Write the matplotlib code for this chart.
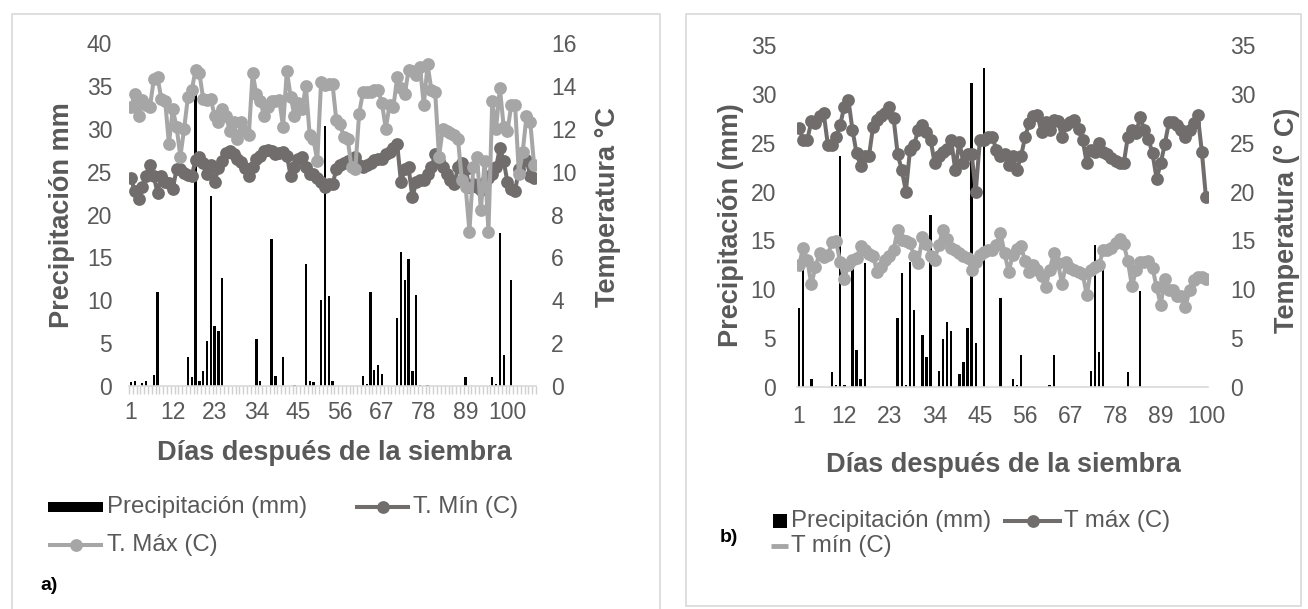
import numpy as np
import matplotlib.pyplot as plt
from matplotlib.patches import Rectangle
from matplotlib.lines import Line2D

plt.rcParams['font.family'] = ['Liberation Sans', 'DejaVu Sans']

W, H = 1308, 609
GRIS_TXT = '#595959'
OSCURO = '#716d6d'
CLARO = '#a6a6a6'

# ---------------- datos a) ----------------
n_dias_a = 107
lluvia_a_dia = [1, 2, 4, 5, 7, 8, 16, 17, 18, 19, 20, 21, 22, 23, 24, 25, 34, 35, 38, 39,
                41, 44, 47, 48, 49, 51, 52, 53, 54, 62, 63, 64, 65, 66, 67, 71, 72, 73,
                74, 75, 76, 77, 79, 89, 96, 97, 98, 99, 101]
lluvia_a_mm = [0.5, 0.6, 0.4, 0.6, 1.3, 11.0, 3.4, 1.0, 35.0, 0.6, 1.8, 5.2, 22.1, 7.0, 6.4,
               12.6, 5.5, 0.6, 17.2, 1.2, 3.4, 0.1, 14.2, 0.6, 0.5, 10.0, 30.3, 10.5, 0.6,
               1.2, 0.2, 11.0, 1.9, 2.5, 1.4, 7.9, 15.6, 12.4, 14.8, 1.7, 10.6, 0.1, 0.1,
               1.0, 1.0, 0.2, 17.9, 3.6, 12.4]
tmin_a = [9.7, 9.1, 8.7, 9.3, 9.8, 10.3, 9.8, 9.0, 9.8, 9.5, 9.45, 9.2, 10.1, 10.1, 9.95,
          9.85, 9.8, 10.55, 10.7, 10.4, 9.9, 10.3, 9.5, 10.15, 10.5, 10.85, 10.95, 10.8,
          10.6, 10.45, 10.15, 9.8, 10.2, 10.6, 10.75, 10.95, 11.0, 10.95, 10.8, 10.85,
          10.9, 10.75, 9.8, 10.2, 10.6, 10.7, 10.2, 9.9, 9.9, 9.7, 9.5, 9.3, 9.4, 9.4,
          10.1, 10.3, 10.4, 10.5, 10.6, 10.7, 10.3, 10.2, 10.3, 10.4, 10.55, 10.6, 10.6,
          10.8, 10.9, 11.1, 11.3, 9.5, 10.1, 10.2, 8.8, 9.5, 9.6, 9.6, 9.9, 10.2, 10.8,
          10.5, 10.2, 9.9, 9.6, 9.4, 10.2, 10.4, 10.1, 9.3, 9.4, 9.3, 9.15, 9.5, 9.7,
          9.9, 10.2, 11.1, 10.5, 9.5, 9.2, 9.1, 10.1, 10.5, 10.55, 9.8, 9.7]
tmax_a = [13.0, 13.6, 12.6, 13.35, 13.1, 13.0, 14.3, 14.4, 13.4, 13.3, 11.3, 12.9, 12.1,
          10.7, 12.0, 13.5, 13.8, 14.75, 14.6, 13.4, 13.35, 13.4, 12.6, 12.3, 12.9, 12.6,
          11.9, 12.3, 11.5, 12.3, 11.9, 11.7, 14.6, 13.6, 13.3, 12.6, 13.0, 13.3, 13.3,
          13.35, 12.1, 14.7, 13.5, 12.6, 13.2, 12.9, 14.0, 11.7, 11.5, 10.5, 14.2, 14.05,
          14.1, 14.1, 12.4, 12.2, 11.6, 11.5, 10.2, 10.1, 12.7, 13.7, 13.7, 13.7, 13.8,
          13.8, 13.2, 12.0, 13.1, 13.0, 14.4, 13.9, 13.6, 14.75, 14.7, 14.5, 14.9, 13.1,
          15.0, 13.8, 13.7, 10.7, 12.0, 11.9, 11.8, 11.7, 11.5, 9.6, 9.3, 7.2, 10.2, 10.7,
          8.2, 10.5, 7.2, 13.3, 12.0, 13.9, 12.1, 11.9, 13.1, 13.1, 9.9, 10.9, 12.6, 12.3,
          10.3]

# ---------------- datos b) ----------------
n_dias_b = 100
lluvia_b_dia = [1, 2, 4, 9, 10, 11, 12, 14, 15, 16, 17, 25, 26, 27, 28, 29, 31, 32, 33, 35,
                36, 37, 38, 40, 41, 42, 43, 44, 46, 50, 53, 54, 55, 62, 63, 72, 73, 74, 75,
                81, 84]
lluvia_b_mm = [8.1, 13.0, 0.8, 1.5, 0.2, 23.6, 0.2, 12.1, 3.8, 0.8, 12.7, 7.1, 11.7, 0.2,
               12.8, 7.9, 5.3, 3.1, 17.6, 1.6, 4.9, 6.7, 5.7, 1.3, 2.6, 6.0, 31.1, 4.5,
               32.6, 9.1, 0.8, 0.2, 3.3, 0.2, 3.3, 1.6, 14.5, 3.6, 12.0, 1.5, 9.8]
tmax_b = [26.5, 25.3, 25.3, 27.2, 27.0, 27.7, 28.0, 24.8, 24.8, 25.6, 26.8, 28.7, 29.4,
          26.3, 23.9, 22.6, 23.6, 23.6, 26.6, 27.3, 27.7, 28.0, 28.7, 27.5, 23.8, 22.2,
          20.0, 24.3, 24.8, 26.3, 26.8, 26.1, 25.3, 22.9, 23.6, 24.0, 24.4, 25.3, 22.2,
          25.1, 22.9, 23.8, 23.8, 20.0, 25.3, 25.3, 25.6, 25.6, 24.3, 23.6, 23.8, 22.7,
          23.6, 22.2, 23.6, 25.6, 27.0, 27.7, 27.8, 26.1, 27.1, 26.3, 27.3, 27.2, 25.6,
          26.8, 27.1, 27.3, 26.4, 25.3, 22.9, 24.3, 24.1, 25.0, 24.1, 23.8, 23.4, 23.1,
          22.9, 22.9, 25.6, 26.3, 26.0, 27.6, 26.3, 25.4, 23.9, 21.3, 22.9, 24.9, 27.1,
          27.1, 26.8, 26.3, 25.6, 26.3, 27.0, 27.8, 24.1, 19.4]
tmin_b = [12.5, 14.2, 13.0, 10.5, 12.3, 13.7, 13.3, 13.5, 14.8, 14.9, 12.8, 11.1, 12.5,
          13.0, 13.2, 14.4, 14.0, 13.6, 13.4, 11.8, 12.3, 13.0, 13.4, 14.0, 16.1, 15.0,
          14.9, 14.7, 13.4, 12.7, 15.4, 14.6, 13.4, 13.0, 14.5, 16.1, 15.1, 14.2, 14.0,
          13.7, 13.4, 13.2, 12.0, 12.8, 13.5, 13.8, 14.0, 14.0, 14.5, 15.8, 13.7, 11.8,
          13.5, 14.1, 14.4, 12.9, 11.8, 12.5, 12.0, 11.4, 10.2, 12.0, 13.7, 12.7, 10.5,
          12.8, 12.2, 12.0, 11.8, 11.6, 9.4, 12.0, 12.3, 12.5, 14.0, 14.0, 14.2, 14.7,
          15.1, 14.6, 12.9, 10.3, 12.0, 12.8, 12.8, 12.9, 12.2, 10.2, 8.4, 11.1, 9.9, 9.9,
          9.3, 9.3, 8.2, 9.9, 11.0, 11.3, 11.3, 11.1]

etiquetas_x = [1, 12, 23, 34, 45, 56, 67, 78, 89, 100]


def serie_lluvia(n, dias, mm):
    v = np.zeros(n)
    v[np.array(dias) - 1] = mm
    return v


def fx(x):
    return x / W


def fy(y):
    return 1 - y / H


fig = plt.figure(figsize=(W / 100, H / 100), dpi=100)

# marcos de cada panel
for x0, y0, x1, y1 in [(12, 14, 660, 615), (686, 14, 1301, 606)]:
    fig.add_artist(Rectangle((fx(x0), fy(y1)), (x1 - x0) / W, (y1 - y0) / H,
                             transform=fig.transFigure, fill=False,
                             edgecolor='#d9d9d9', lw=1.2))


def panel(caja, n, lluvia, lineas, lim_l, lim_r, tk_l, tk_r, peine, ancho, pads):
    x0, y0, x1, y1 = caja
    ax = fig.add_axes([fx(x0), fy(y1), (x1 - x0) / W, (y1 - y0) / H])
    dias = np.arange(1, n + 1)
    ax.bar(dias, lluvia, width=ancho, color='black', zorder=2)
    ax.set_xlim(0.5, n + 0.5)
    ax.set_ylim(*lim_l)
    ax.set_yticks(tk_l)
    ax.set_xticks(etiquetas_x)
    ax.set_xticklabels([str(e) for e in etiquetas_x])
    for s in ['top', 'left', 'right']:
        ax.spines[s].set_visible(False)
    ax.spines['bottom'].set_color('#d9d9d9')
    ax.spines['bottom'].set_linewidth(1.2)
    ax.tick_params(axis='x', length=0, pad=pads[2], labelsize=16.5, labelcolor=GRIS_TXT)
    ax.tick_params(axis='y', length=0, pad=pads[0], labelsize=16.5, labelcolor=GRIS_TXT)
    if peine:
        ax.set_xticks(np.arange(0.5, n + 1), minor=True)
        ax.tick_params(axis='x', which='minor', length=6, width=1, color='#d0d0d0')

    ax2 = ax.twinx()
    for vals, col in lineas:
        ax2.plot(dias, vals, color=col, lw=2.9, marker='o', ms=9.2,
                 markeredgewidth=0, solid_joinstyle='round')
    ax2.set_ylim(*lim_r)
    ax2.set_yticks(tk_r)
    for s in ['top', 'left', 'right', 'bottom']:
        ax2.spines[s].set_visible(False)
    ax2.tick_params(axis='y', length=0, pad=pads[1], labelsize=16.5, labelcolor=GRIS_TXT)
    return ax, ax2


# ---------------- panel a) ----------------
panel((129, 43, 536, 386), n_dias_a, serie_lluvia(n_dias_a, lluvia_a_dia, lluvia_a_mm),
      [(tmin_a, OSCURO), (tmax_a, CLARO)], (0, 40), (0, 16),
      range(0, 41, 5), range(0, 17, 2), True, 0.6, (12, 11, 11))

# ---------------- panel b) ----------------
panel((797, 45, 1208, 387), n_dias_b, serie_lluvia(n_dias_b, lluvia_b_dia, lluvia_b_mm),
      [(tmax_b, OSCURO), (tmin_b, CLARO)], (0, 35), (0, 35),
      range(0, 36, 5), range(0, 36, 5), False, 0.62, (15, 16, 13))

# titulos de ejes
tit = dict(fontsize=19.5, fontweight='bold', color=GRIS_TXT, ha='center', va='center')
fig.text(fx(62), fy(215), 'Precipitación mm', rotation=90, **tit)
fig.text(fx(608), fy(207), 'Temperatura °C', rotation=90, **tit)
fig.text(fx(334), fy(453), 'Días después de la siembra', **tit)
fig.text(fx(731), fy(225), 'Precipitación (mm)', rotation=90, **tit)
fig.text(fx(1287), fy(220), 'Temperatura (° C)', rotation=90, **tit)
fig.text(fx(1003), fy(465), 'Días después de la siembra', **tit)


# leyendas dibujadas a mano
def clave_linea(xa, xb, y, col, marcador=True, lw=2.9):
    fig.add_artist(Line2D([fx(xa), fx(xb)], [fy(y), fy(y)], transform=fig.transFigure,
                          color=col, lw=lw, solid_capstyle='butt'))
    if marcador:
        fig.add_artist(Line2D([fx((xa + xb) / 2)], [fy(y)], transform=fig.transFigure,
                              color=col, marker='o', ms=9.2, markeredgewidth=0))


def clave_caja(xa, xb, y, alto):
    fig.add_artist(Rectangle((fx(xa), fy(y + alto / 2)), (xb - xa) / W, alto / H,
                             transform=fig.transFigure, color='black', lw=0))


ley = dict(fontsize=17.3, color=GRIS_TXT, ha='left', va='center')

clave_caja(48, 103, 507, 10)
fig.text(fx(107), fy(507), 'Precipitación (mm)', **ley)
clave_linea(355, 410, 507, OSCURO)
fig.text(fx(413), fy(507), 'T. Mín (C)', **ley)
clave_linea(48, 103, 545, CLARO)
fig.text(fx(107), fy(545), 'T. Máx (C)', **ley)
fig.text(fx(40), fy(585), 'a)', fontsize=14, fontweight='bold', color='black',
         ha='left', va='center')

clave_caja(773, 787, 521, 14)
fig.text(fx(791), fy(521), 'Precipitación (mm)', **ley)
clave_linea(1003, 1062, 521, OSCURO)
fig.text(fx(1064), fy(521), 'T máx (C)', **ley)
clave_linea(771, 788, 546, CLARO, marcador=False, lw=3.5)
fig.text(fx(791), fy(546), 'T mín (C)', **ley)
fig.text(fx(720), fy(537), 'b)', fontsize=14, fontweight='bold', color='black',
         ha='left', va='center')

fig.savefig('out.png', dpi=100)
